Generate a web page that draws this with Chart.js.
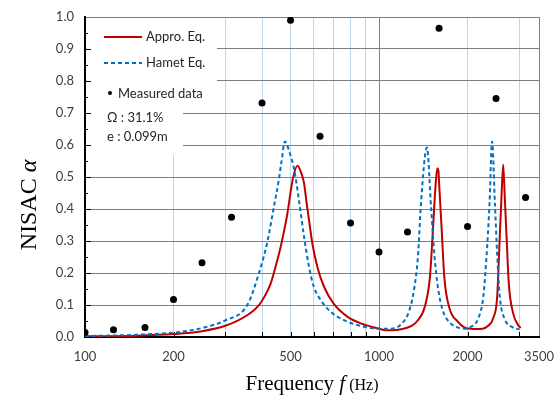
<!DOCTYPE html>
<html>
<head>
<meta charset="utf-8">
<script src="https://cdn.jsdelivr.net/npm/chart.js@4/dist/chart.umd.min.js"></script>
<style>
  html, body { margin: 0; padding: 0; background: #fff; }
  #wrap { width: 559px; height: 396px; }
</style>
</head>
<body>
<div id="wrap"><canvas id="chart"></canvas></div>
<script>
// 実測値 (1/3 オクターブ)
const measFreq = [100, 125, 160, 200, 250, 315, 400, 500, 630, 800, 1000, 1250, 1600, 2000, 2500, 3150];
const measAlpha = [0.014, 0.023, 0.030, 0.117, 0.232, 0.374, 0.731, 0.990, 0.627, 0.356, 0.266, 0.328, 0.965, 0.345, 0.745, 0.436];

// 近似式
const apprFreq = [100, 150, 200, 250, 300, 356, 390, 410, 428, 445, 463, 475, 488, 508, 528, 545, 556, 567, 578, 593, 617, 650, 700, 782, 871, 1000, 1050, 1100, 1200, 1290, 1350, 1430, 1490, 1525, 1556, 1578, 1592, 1603, 1634, 1667, 1731, 1856, 1950, 2100, 2250, 2350, 2443, 2522, 2574, 2609, 2644, 2677, 2715, 2763, 2860, 2975, 3030];
const apprAlpha = [0.002, 0.004, 0.009, 0.018, 0.035, 0.068, 0.099, 0.130, 0.167, 0.220, 0.282, 0.330, 0.386, 0.490, 0.535, 0.510, 0.480, 0.420, 0.365, 0.293, 0.219, 0.157, 0.105, 0.063, 0.042, 0.026, 0.021, 0.021, 0.025, 0.035, 0.050, 0.094, 0.188, 0.334, 0.470, 0.527, 0.520, 0.470, 0.334, 0.188, 0.094, 0.047, 0.030, 0.025, 0.026, 0.035, 0.058, 0.125, 0.313, 0.438, 0.538, 0.438, 0.313, 0.167, 0.073, 0.037, 0.028];

// Hamet 式
const hametFreq = [100, 150, 211, 250, 300, 356, 390, 417, 439, 456, 465, 479, 495, 515, 534, 556, 578, 600, 634, 686, 763, 846, 1000, 1100, 1190, 1269, 1320, 1356, 1389, 1455, 1505, 1545, 1585, 1646, 1754, 1850, 1960, 2037, 2175, 2262, 2320, 2376, 2424, 2478, 2525, 2575, 2670, 2852, 3000];
const hametAlpha = [0.003, 0.007, 0.016, 0.028, 0.052, 0.099, 0.198, 0.297, 0.407, 0.490, 0.543, 0.611, 0.580, 0.522, 0.428, 0.313, 0.219, 0.157, 0.115, 0.078, 0.052, 0.037, 0.026, 0.026, 0.040, 0.084, 0.157, 0.250, 0.418, 0.592, 0.397, 0.250, 0.157, 0.084, 0.042, 0.030, 0.026, 0.030, 0.058, 0.125, 0.250, 0.418, 0.611, 0.418, 0.250, 0.125, 0.058, 0.030, 0.024];

// 軸の目盛り
const xTickValues = [100, 200, 300, 400, 500, 600, 700, 800, 900, 1000, 2000, 3000, 3500];
const xTickLabels = [100, 200, 500, 1000, 2000, 3500];

const RED = "#C00000";
const BLUE = "#0070C0";
const GRID = "#7F7F7F";
const MINOR = "#BDD7EE";

const toPoints = (xs, ys) => xs.map((x, i) => ({ x: x, y: ys[i] }));

// 凡例 (グラフ内の白枠) と内向き目盛り
const insidePlugin = {
  id: "inside",
  beforeDatasetsDraw(chart) {
    const ctx = chart.ctx;
    const area = chart.chartArea;
    const xs = chart.scales.x;
    const ys = chart.scales.y;
    ctx.save();

    // 凡例の背景
    ctx.fillStyle = "#fff";
    ctx.fillRect(area.left + 1.5, area.top + 1, 217 - area.left - 1.5, 100 - area.top - 1);
    ctx.fillRect(area.left + 1.5, 100, 183 - area.left - 1.5, 55);

    // 目盛り
    ctx.strokeStyle = "#000";
    ctx.lineWidth = 1;
    ctx.beginPath();
    for (let v = 0.05; v < 1.0; v += 0.05) {
      const y = Math.round(ys.getPixelForValue(v)) + 0.5;
      const major = Math.abs(v * 10 - Math.round(v * 10)) < 1e-6;
      ctx.moveTo(area.left, y);
      ctx.lineTo(area.left + (major ? 6 : 3), y);
    }
    xTickValues.slice(1, -1).forEach(v => {
      const x = Math.round(xs.getPixelForValue(v)) + 0.5;
      ctx.moveTo(x, area.bottom);
      ctx.lineTo(x, area.bottom - 5);
    });
    ctx.stroke();

    // 凡例
    ctx.font = "13px Lato";
    ctx.textBaseline = "middle";
    ctx.fillStyle = "#262626";

    ctx.strokeStyle = RED;
    ctx.lineWidth = 2;
    ctx.beginPath();
    ctx.moveTo(104, 37);
    ctx.lineTo(142, 37);
    ctx.stroke();
    ctx.fillText("Appro. Eq.", 146, 37);

    ctx.strokeStyle = BLUE;
    ctx.setLineDash([4, 3]);
    ctx.beginPath();
    ctx.moveTo(104, 63);
    ctx.lineTo(142, 63);
    ctx.stroke();
    ctx.setLineDash([]);
    ctx.fillText("Hamet Eq.", 146, 63);

    ctx.beginPath();
    ctx.arc(110, 93, 2, 0, Math.PI * 2);
    ctx.fillStyle = "#000";
    ctx.fill();
    ctx.fillStyle = "#262626";
    ctx.fillText("Measured data", 118, 94);

    ctx.fillText("Ω : 31.1%", 107, 118);
    ctx.fillText("e : 0.099m", 107, 137);
    ctx.restore();
  },
  afterDraw(chart) {
    const ctx = chart.ctx;
    const area = chart.chartArea;
    ctx.save();
    ctx.fillStyle = "#000";
    ctx.textBaseline = "alphabetic";

    // 横軸タイトル
    const parts = [
      ["Frequency ", "21px 'Liberation Serif'"],
      ["f", "italic 21px 'Liberation Serif'"],
      [" (Hz)", "16px 'Liberation Serif'"],
    ];
    let w = 0;
    parts.forEach(p => { ctx.font = p[1]; w += ctx.measureText(p[0]).width; });
    let x = (area.left + area.right) / 2 - w / 2;
    parts.forEach(p => {
      ctx.font = p[1];
      ctx.fillText(p[0], x, 390);
      x += ctx.measureText(p[0]).width;
    });

    // 縦軸タイトル
    const yparts = [
      ["NISAC ", "24px 'Liberation Serif'"],
      ["α", "italic 24px 'Liberation Serif'"],
    ];
    w = 0;
    yparts.forEach(p => { ctx.font = p[1]; w += ctx.measureText(p[0]).width; });
    ctx.translate(36, 205);
    ctx.rotate(-Math.PI / 2);
    x = -w / 2;
    yparts.forEach(p => {
      ctx.font = p[1];
      ctx.fillText(p[0], x, 0);
      x += ctx.measureText(p[0]).width;
    });
    ctx.restore();
  }
};

new Chart(document.getElementById("chart"), {
  type: "line",
  data: {
    datasets: [
      {
        label: "Measured data",
        data: toPoints(measFreq, measAlpha),
        showLine: false,
        pointRadius: 3.5,
        pointBackgroundColor: "#000",
        pointBorderColor: "#000",
        pointBorderWidth: 0,
      },
      {
        label: "Hamet Eq.",
        data: toPoints(hametFreq, hametAlpha),
        borderColor: BLUE,
        borderWidth: 2,
        borderDash: [4, 3],
        pointRadius: 0,
        cubicInterpolationMode: "monotone",
        fill: false,
      },
      {
        label: "Appro. Eq.",
        data: toPoints(apprFreq, apprAlpha),
        borderColor: RED,
        borderWidth: 2,
        pointRadius: 0,
        cubicInterpolationMode: "monotone",
        fill: false,
      },
    ]
  },
  options: {
    responsive: true,
    maintainAspectRatio: false,
    animation: false,
    layout: { padding: { left: 0, top: 17, right: 20, bottom: 0 } },
    plugins: {
      legend: { display: false },
      tooltip: { enabled: false },
    },
    scales: {
      x: {
        type: "logarithmic",
        min: 100,
        max: 3500,
        afterBuildTicks: (scale) => {
          scale.ticks = xTickValues.map(v => ({ value: v }));
        },
        afterFit: (scale) => {
          scale.height = 59;
          scale.paddingLeft = 0;
          scale.paddingRight = 0;
        },
        ticks: {
          autoSkip: false,
          maxRotation: 0,
          padding: 12,
          color: "#404040",
          font: { family: "Lato", size: 13 },
          callback: (v) => (xTickLabels.includes(v) ? String(v) : ""),
        },
        grid: {
          drawTicks: false,
          lineWidth: 1,
          color: (c) => {
            if (!c.tick) return MINOR;
            if (c.tick.value === 100) return "rgba(0,0,0,0)";
            if (c.tick.value === 1000 || c.tick.value === 3500) return GRID;
            return MINOR;
          },
        },
        border: { color: "#000", width: 2 },
      },
      y: {
        min: 0,
        max: 1.0,
        afterFit: (scale) => {
          scale.width = 85;
          scale.paddingTop = 0;
          scale.paddingBottom = 0;
        },
        ticks: {
          stepSize: 0.1,
          padding: 11,
          color: "#404040",
          font: { family: "Lato", size: 13 },
          callback: (v) => v.toFixed(1),
        },
        grid: {
          drawTicks: false,
          color: (c) => (c.tick && c.tick.value === 0 ? "rgba(0,0,0,0)" : GRID),
          lineWidth: 1,
        },
        border: { color: "#000", width: 2 },
      },
    },
  },
  plugins: [insidePlugin],
});
</script>
</body>
</html>
